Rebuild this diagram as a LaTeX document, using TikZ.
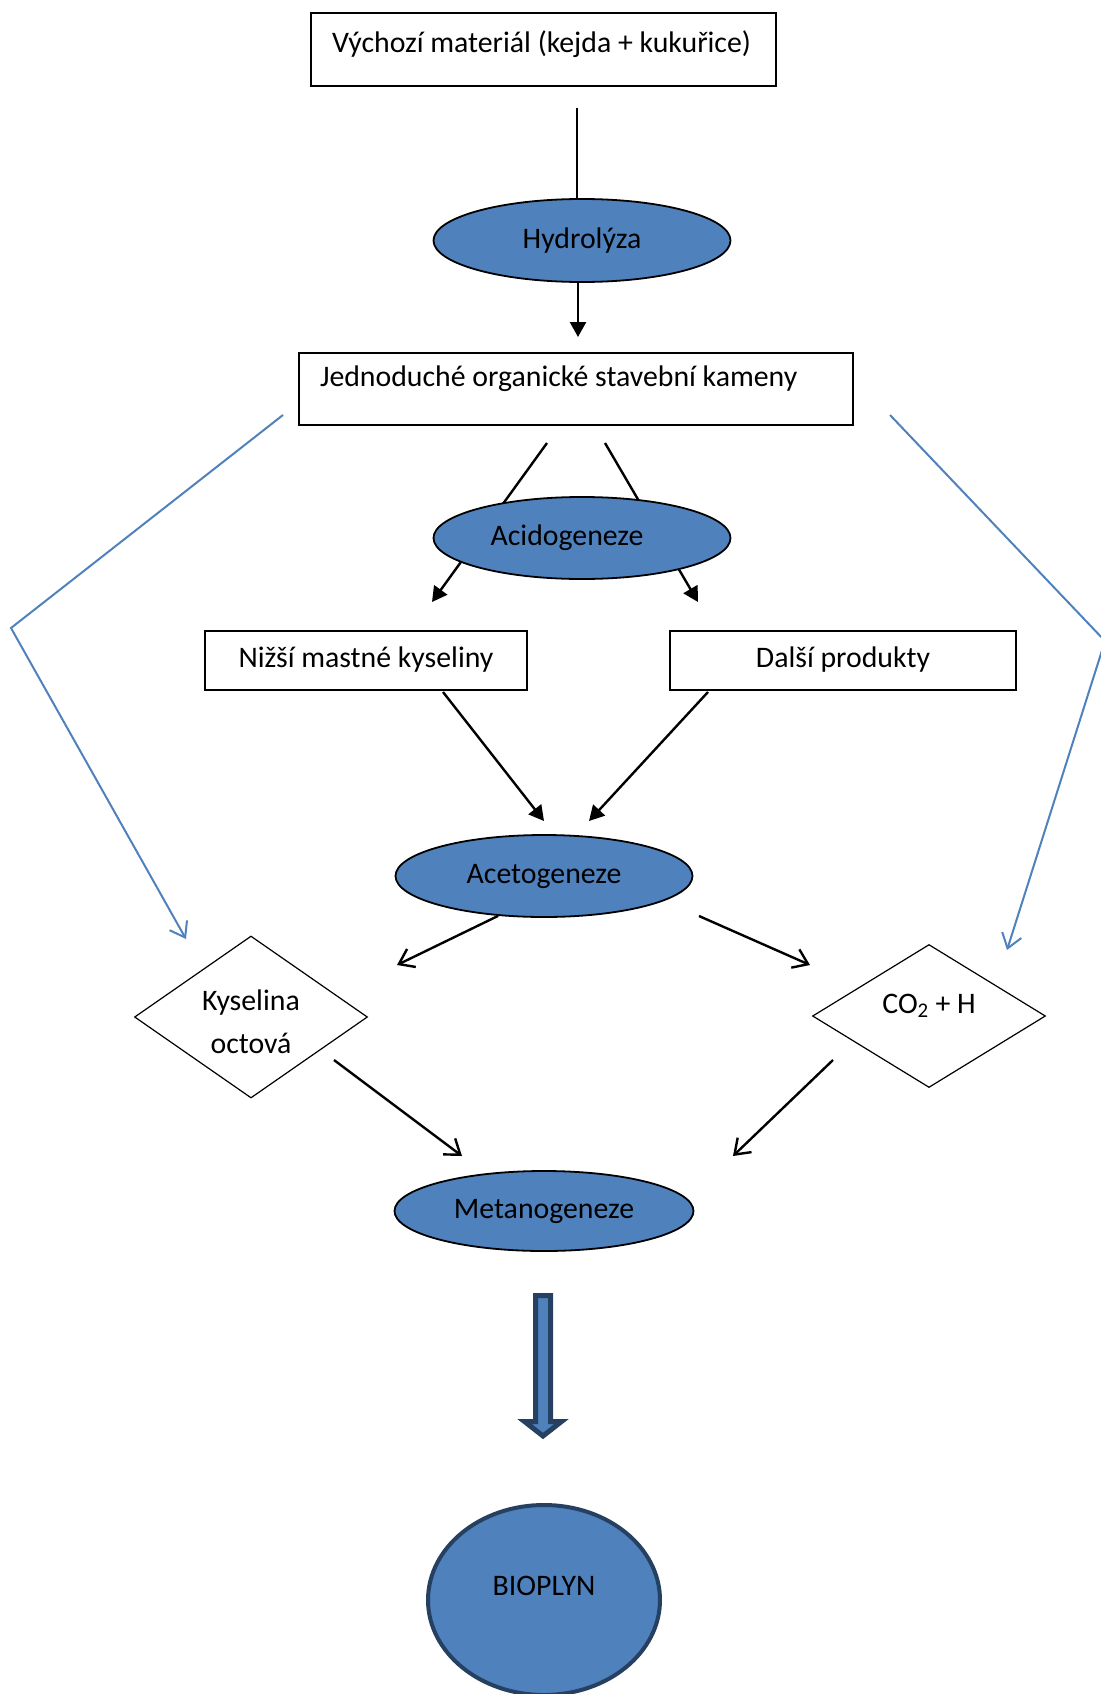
\documentclass[tikz,border=0pt]{standalone}
\usepackage{fontspec}
\setmainfont{Carlito}
\usetikzlibrary{shapes.geometric,arrows.meta}
\definecolor{fillblue}{RGB}{79,129,189}
\definecolor{navyblue}{RGB}{37,64,97}
\tikzset{
  stagebox/.style={draw, line width=2pt, rectangle, inner ysep=0pt, inner xsep=21pt, align=flush left},
  phase/.style={draw, ellipse, fill=fillblue, line width=1.8pt, minimum width=297pt, minimum height=82pt, inner sep=0pt},
  product/.style={draw, diamond, line width=1.2pt, inner sep=0pt, align=center},
  flow/.style={line width=2.4pt, -{Triangle[length=15pt,width=16pt]}},
  openflow/.style={line width=2.4pt, -{Straight Barb[length=14pt,width=20pt]}},
  sideflow/.style={draw=fillblue, line width=2pt, -{Straight Barb[length=14pt,width=20pt]}}
}

\begin{document}
\begin{tikzpicture}[x=1pt, y=-1pt, font={\fontsize{29.8}{35}\selectfont}]
    \useasboundingbox (0,0) rectangle (1100,1694);

    \coordinate (topend) at (577,108);
    \coordinate (hydroend) at (578,337);
    \coordinate (splitl) at (547,443);
    \coordinate (splitr) at (605,443);
    \coordinate (nizsiend) at (432,602);
    \coordinate (dalsiend) at (698,602);

    \draw[flow] (splitl) -- (nizsiend);
    \draw[flow] (splitr) -- (dalsiend);

    \node (start) at (543.5,49.5) [stagebox, text width=423pt, minimum height=73pt, text height=22pt, text depth=16pt] {Výchozí materiál (kejda + kukuřice)};
    \node (hydro) at (582,240.5) [phase, minimum height=83pt] {Hydrolýza};
    \node (organic) at (576,389) [stagebox, text width=512pt, minimum height=72pt, text height=22pt, text depth=28pt] {Jednoduché organické stavební kameny};
    \node (acido) at (582,538) [phase] {Acidogeneze\hspace*{30pt}};
    \node (nizsi) at (366,660) [stagebox, align=center, minimum width=322pt, minimum height=59pt] {Nižší mastné kyseliny};
    \node (dalsi) at (843,660) [stagebox, align=center, minimum width=346pt, minimum height=59pt] {Další produkty};
    \node (aceto) at (544,876) [phase] {Acetogeneze};
    \node (octova) at (251,1017) [product, minimum width=233pt, minimum height=162pt, aspect=1.44, font={\fontsize{29.8}{43}\selectfont}] {\rule{0pt}{30pt}Kyselina\\octová};
    \node (plyny) at (929,1016) [product, minimum width=233pt, minimum height=143pt, aspect=1.63, text height=22pt, text depth=28pt] {CO\textsubscript{2} + H};
    \node (metano) at (544,1211) [phase, minimum width=299pt, minimum height=80pt] {Metanogeneze};
    \node (bioplyn) at (544,1600) [draw=navyblue, fill=fillblue, ellipse, line width=4pt, minimum width=232pt, minimum height=190pt, inner sep=0pt, text height=22pt, text depth=32pt] {BIOPLYN};

    \draw[line width=2.4pt] (topend) -- (topend |- hydro.north);
    \draw[flow] (hydroend |- hydro.south) -- (hydroend);

    \coordinate (nizsistart) at (443,692);
    \coordinate (dalsistart) at (708,692);
    \coordinate (acetol) at (544,821);
    \coordinate (acetor) at (589,821);
    \draw[flow] (nizsistart) -- (acetol);
    \draw[flow] (dalsistart) -- (acetor);

    \coordinate (octovaend) at (397,965);
    \coordinate (plynystart) at (699,916);
    \coordinate (plynyend) at (810,965);
    \draw[openflow] (aceto.221) -- (octovaend);
    \draw[openflow] (plynystart) -- (plynyend);

    \coordinate (octovastart) at (334,1060);
    \coordinate (plynyout) at (833,1060);
    \coordinate (metanol) at (462,1156);
    \coordinate (metanor) at (733,1156);
    \draw[openflow] (octovastart) -- (metanol);
    \draw[openflow] (plynyout) -- (metanor);

    \coordinate (leftstart) at (283,415);
    \coordinate (leftbend) at (11,628);
    \coordinate (leftend) at (186,939);
    \coordinate (rightstart) at (890,415);
    \coordinate (rightbend) at (1105,641);
    \coordinate (rightend) at (1007,950);
    \draw[sideflow] (leftstart) -- (leftbend) -- (leftend);
    \draw[sideflow] (rightstart) -- (rightbend) -- (rightend);

    \draw[draw=navyblue, fill=fillblue, line width=5pt, line join=miter]
      (535.5,1295.5) -- (550.5,1295.5) -- (550.5,1421.5) -- (561.5,1421.5)
      -- (543,1436) -- (524.5,1421.5) -- (535.5,1421.5) -- cycle;
\end{tikzpicture}
\end{document}
